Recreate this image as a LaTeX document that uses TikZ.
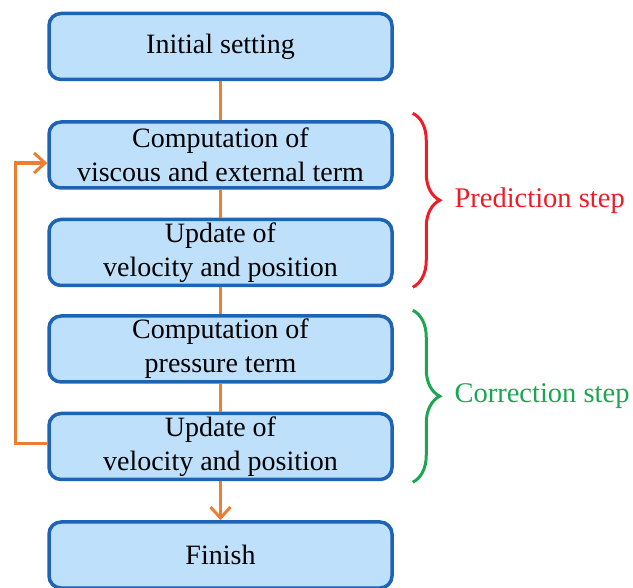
\documentclass[tikz,border=0pt]{standalone}
\usepackage{fontspec}
\setmainfont{Liberation Serif}
\newfontfamily\diagfont{Liberation Serif}
\usetikzlibrary{positioning,arrows.meta,decorations.pathreplacing}

\definecolor{boxline}{HTML}{1F63B4}
\definecolor{boxfill}{HTML}{BFE0FB}
\definecolor{floworange}{HTML}{ED7D31}
\definecolor{predred}{HTML}{EE1C25}
\definecolor{corrgreen}{HTML}{1CA552}

\tikzset{
  stepbox/.style={draw=boxline, fill=boxfill, line width=3.5pt,
    rounded corners=12pt, minimum width=343pt, minimum height=66pt,
    align=center, font=\diagfont\fontsize{28}{34}\selectfont, inner sep=0pt},
  flow/.style={draw=floworange, line width=3.5pt},
  flowarrow/.style={flow, -{Straight Barb[length=11pt,width=20pt,line width=3pt]}},
  stepbrace/.style={decorate, line width=3pt,
    decoration={brace, amplitude=27pt, aspect=0.5}},
  steplabel/.style={anchor=west, xshift=37pt, font=\diagfont\fontsize{28.5}{33}\selectfont}
}

\begin{document}
\begin{tikzpicture}
  \useasboundingbox (0,0) rectangle (633pt,-588pt);
  % flow chart boxes
  \node[stepbox] (init) at (220.5pt,-46.5pt) {Initial setting};
  \node[stepbox, below=39pt of init] (visc) {Computation of\\viscous and external term};
  \node[stepbox, below=28pt of visc] (upd1) {Update of\\velocity and position};
  \node[stepbox, below=27pt of upd1] (pres) {Computation of\\pressure term};
  \node[stepbox, below=28pt of pres] (upd2) {Update of\\velocity and position};
  \node[stepbox, below=39pt of upd2] (fin) {Finish};
  % connectors
  \draw[flow] (init) -- (visc);
  \draw[flow] (visc) -- (upd1);
  \draw[flow] (upd1) -- (pres);
  \draw[flow] (pres) -- (upd2);
  \draw[flowarrow] (upd2) -- (fin);
  \draw[flowarrow] ([yshift=3pt]upd2.west) -- ++(-32pt,0) |- ([yshift=-8pt]visc.west);
  % braces
  \draw[stepbrace, predred] ([shift={(19pt,7pt)}]visc.north east)
    -- node[steplabel, text=predred] {Prediction step} ([xshift=19pt]upd1.south east);
  \draw[stepbrace, corrgreen] ([shift={(19pt,4pt)}]pres.north east)
    -- node[steplabel, text=corrgreen] {Correction step} ([shift={(19pt,-1pt)}]upd2.south east);
\end{tikzpicture}
\end{document}
